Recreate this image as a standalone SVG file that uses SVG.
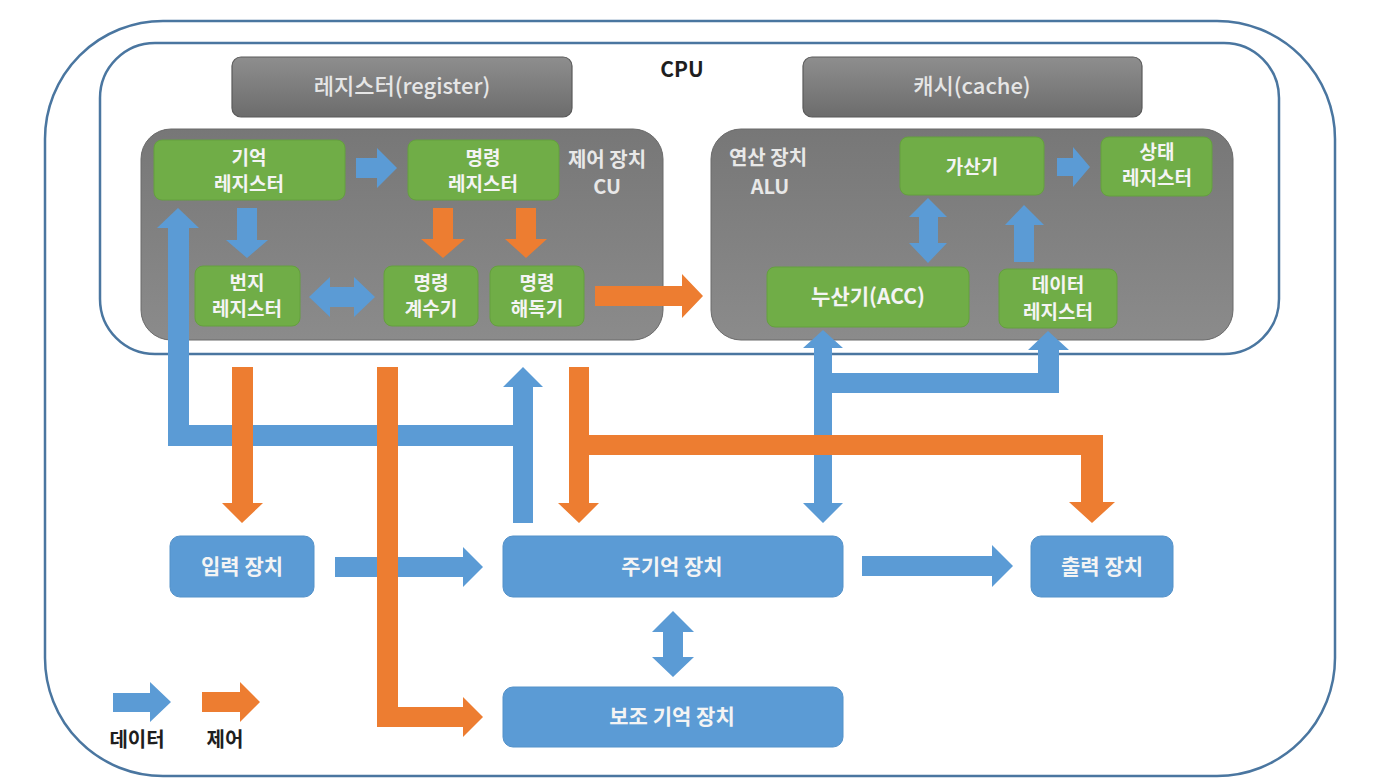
<svg xmlns="http://www.w3.org/2000/svg" width="1384" height="782" viewBox="0 0 1384 782">
<defs>
<linearGradient id="gReg" x1="0" y1="0" x2="0" y2="1"><stop offset="0" stop-color="#8e8e8e"/><stop offset="1" stop-color="#6c6c6c"/></linearGradient>
<linearGradient id="gUnit" x1="0" y1="0" x2="0" y2="1"><stop offset="0" stop-color="#777777"/><stop offset="1" stop-color="#8b8b8b"/></linearGradient>
</defs>
<style>
.frame{fill:none;stroke:#4a76a0;stroke-width:2.5}
.reg{fill:url(#gReg);stroke:#5a5a5a;stroke-width:1.2}
.unit{fill:url(#gUnit);stroke:#6a6a6a;stroke-width:1}
.green{fill:#70ad47;stroke:#65a03f;stroke-width:1}
.blue{fill:#5b9bd5;stroke:#5592c9;stroke-width:1}
.data{fill:#5b9bd5}
.ctrl{fill:#ed7d31}
text{font-family:"Noto Sans CJK KR","Noto Sans",sans-serif;text-anchor:middle;font-weight:bold}
.t{fill:#f4f4f4;font-size:19px}
.tb{fill:#f4f4f4;font-size:21px}
.tr{fill:#e6e6e6;font-size:22px;font-weight:500}
.tl{fill:#e8e8e8;font-size:20px}
.tk{fill:#1e1e1e;font-size:20px}
</style>
<rect width="1384" height="782" fill="#ffffff"/>
<g id="system"><rect class="frame" x="45" y="21" width="1290" height="755" rx="118"/></g>
<g id="cpu"><rect class="frame" x="100" y="43" width="1179" height="311" rx="55"/><text class="tk" x="682" y="77" style="font-size:21px">CPU</text></g>
<g id="register"><rect class="reg" x="232" y="57" width="340" height="60" rx="9"/><text class="tr" x="402" y="94">레지스터(register)</text></g>
<g id="cache"><rect class="reg" x="803" y="57" width="339" height="60" rx="9"/><text class="tr" x="972" y="94">캐시(cache)</text></g>
<g id="cu"><rect class="unit" x="141" y="129" width="522" height="211" rx="30"/><text class="tl" x="607" y="167">제어 장치</text><text class="tl" x="607" y="194">CU</text></g>
<g id="alu"><rect class="unit" x="711" y="129" width="522" height="211" rx="30"/><text class="tl" x="768" y="165">연산 장치</text><text class="tl" x="770" y="194">ALU</text></g>
<g id="mem-reg"><rect class="green" x="154" y="140" width="191" height="60" rx="8"/><text class="t" x="249" y="165">기억</text><text class="t" x="249" y="191">레지스터</text></g>
<g id="inst-reg"><rect class="green" x="408" y="140" width="151" height="60" rx="8"/><text class="t" x="483" y="165">명령</text><text class="t" x="483" y="191">레지스터</text></g>
<g id="addr-reg"><rect class="green" x="195" y="266" width="105" height="60" rx="8"/><text class="t" x="247" y="290">번지</text><text class="t" x="247" y="316">레지스터</text></g>
<g id="pc"><rect class="green" x="384" y="266" width="94" height="60" rx="8"/><text class="t" x="431" y="290">명령</text><text class="t" x="431" y="316">계수기</text></g>
<g id="decoder"><rect class="green" x="490" y="266" width="94" height="60" rx="8"/><text class="t" x="537" y="290">명령</text><text class="t" x="537" y="316">해독기</text></g>
<g id="adder"><rect class="green" x="900" y="137" width="144" height="58" rx="8"/><text class="t" x="972" y="174">가산기</text></g>
<g id="status-reg"><rect class="green" x="1101" y="137" width="111" height="59" rx="8"/><text class="t" x="1157" y="159">상태</text><text class="t" x="1157" y="185">레지스터</text></g>
<g id="acc"><rect class="green" x="767" y="267" width="202" height="60" rx="8"/><text class="t" x="868" y="304" style="font-size:21px">누산기(ACC)</text></g>
<g id="data-reg"><rect class="green" x="999" y="269" width="118" height="59" rx="8"/><text class="t" x="1058" y="292">데이터</text><text class="t" x="1058" y="319">레지스터</text></g>
<g id="input"><rect class="blue" x="170" y="536" width="144" height="61" rx="10"/><text class="tb" x="242" y="574">입력 장치</text></g>
<g id="main-mem"><rect class="blue" x="503" y="536" width="340" height="61" rx="10"/><text class="tb" x="672" y="574">주기억 장치</text></g>
<g id="output"><rect class="blue" x="1031" y="536" width="142" height="61" rx="10"/><text class="tb" x="1102" y="574">출력 장치</text></g>
<g id="aux-mem"><rect class="blue" x="503" y="687" width="340" height="60" rx="10"/><text class="tb" x="672" y="724">보조 기억 장치</text></g>
<g id="connectors">
<polygon class="data" points="356,158 377,158 377,148 397,168 377,188 377,178 356,178"/>
<polygon class="data" points="237,208 257,208 257,240 268,240 247,258 226,240 237,240"/>
<polygon class="data" points="309,297 330,277 330,287 354,287 354,277 375,297 354,317 354,307 330,307 330,317"/>
<polygon class="ctrl" points="433,208 453,208 453,239 465,239 443,258 421,239 433,239"/>
<polygon class="ctrl" points="516,208 536,208 536,239 547,239 526,258 505,239 516,239"/>
<polygon class="ctrl" points="595,286 682,286 682,274 703,296 682,318 682,306 595,306"/>
<polygon class="data" points="1057,158 1073,158 1073,147 1090,167 1073,187 1073,176 1057,176"/>
<polygon class="data" points="928,198 947,217 938,217 938,243 947,243 928,263 909,243 919,243 919,217 909,217"/>
<polygon class="data" points="1024,205 1044,225 1034,225 1034,262 1014,262 1014,225 1005,225"/>
<polygon class="data" points="168,446 168,228 157,228 178,208 199,228 189,228 189,425 513,425 513,387 503,387 523,367 543,387 533,387 533,523 513,523 513,446"/>
<polygon class="data" points="823,330 843,348 832,348 832,373 1038,373 1038,350 1028,350 1048,331 1069,350 1059,350 1059,393 832,393 832,503 843,503 823,523 803,503 814,503 814,348 803,348"/>
<polygon class="data" points="335,557 463,557 463,547 483,567 463,587 463,577 335,577"/>
<polygon class="data" points="862,556 992,556 992,545 1013,566 992,587 992,576 862,576"/>
<polygon class="data" points="673,611 694,632 683,632 683,657 694,657 673,677 652,657 663,657 663,632 652,632"/>
<polygon class="ctrl" points="232,367 253,367 253,503 263,503 242,523 222,503 232,503"/>
<polygon class="ctrl" points="377,367 398,367 398,707 463,707 463,697 483,717 463,737 463,727 377,727"/>
<polygon class="ctrl" points="569,367 589,367 589,435 1103,435 1103,502 1115,502 1092,523 1069,502 1081,502 1081,455 589,455 589,503 599,503 579,523 558,503 569,503"/>
</g>
<g id="legend">
<polygon class="data" points="113,693 150,693 150,682 171,702 150,722 150,712 113,712"/>
<polygon class="ctrl" points="202,692 240,692 240,682 260,702 240,722 240,712 202,712"/>
<text class="tk" x="137" y="747">데이터</text>
<text class="tk" x="225" y="747">제어</text>
</g>
</svg>
